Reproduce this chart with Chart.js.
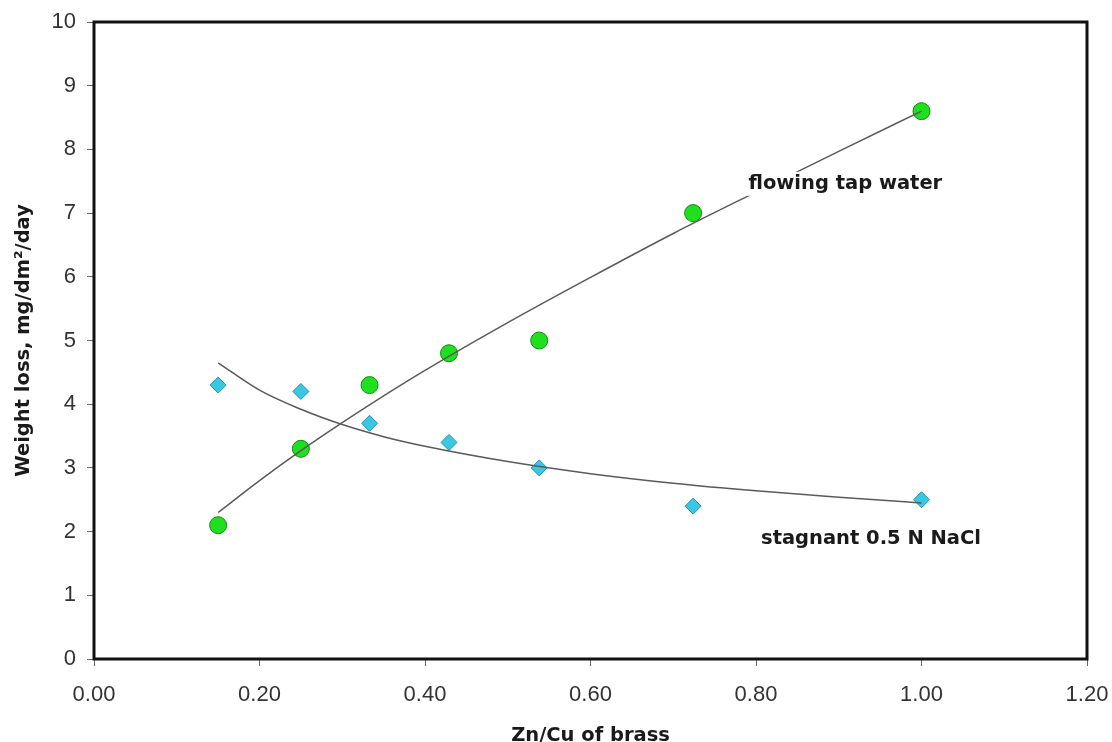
<!DOCTYPE html>
<html>
<head>
<meta charset="utf-8">
<script src="https://cdn.jsdelivr.net/npm/chart.js@4/dist/chart.umd.min.js"></script>
<style>
  html, body { margin: 0; padding: 0; background: #ffffff; }
  #wrap { width: 1112px; height: 742px; }
</style>
</head>
<body>
<div id="wrap"><canvas id="c" width="1112" height="742"></canvas></div>
<script>
// Zn/Cu ratio of the brasses tested
const znCu = [0.15, 0.25, 0.333, 0.429, 0.538, 0.724, 1.0];
// Weight loss, mg/dm2/day
const tapWater = [2.1, 3.3, 4.3, 4.8, 5.0, 7.0, 8.6];
const naclStagnant = [4.3, 4.2, 3.7, 3.4, 3.0, 2.4, 2.5];

// Trend curves
const tapTrendX = [0.15, 0.2, 0.25, 0.3, 0.35, 0.4, 0.5, 0.6, 0.7, 0.8, 0.9, 1.0];
const tapTrendY = [2.30, 2.80, 3.27, 3.71, 4.13, 4.53, 5.28, 5.99, 6.68, 7.33, 7.97, 8.60];
const naclTrendX = [0.15, 0.2, 0.25, 0.3, 0.35, 0.4, 0.5, 0.6, 0.7, 0.8, 0.9, 1.0];
const naclTrendY = [4.65, 4.22, 3.92, 3.68, 3.49, 3.34, 3.10, 2.91, 2.76, 2.64, 2.54, 2.45];

// Axis ticks
const xTicks = [0.00, 0.20, 0.40, 0.60, 0.80, 1.00, 1.20];
const yTicks = [0, 1, 2, 3, 4, 5, 6, 7, 8, 9, 10];

// Curve annotations
const annotations = [
  { text: 'flowing tap water', x: 0.908, y: 7.46 },
  { text: 'stagnant 0.5 N NaCl', x: 0.939, y: 1.88 }
];

const pts = (xs, ys) => xs.map((x, i) => ({ x: x, y: ys[i] }));

const labelFont = 'bold 19.5px "DejaVu Sans"';

const framePlugin = {
  id: 'frame',
  beforeDatasetsDraw(chart) {
    const { ctx, chartArea: a } = chart;
    ctx.save();
    ctx.strokeStyle = '#111111';
    ctx.lineWidth = 3;
    ctx.strokeRect(a.left, a.top, a.right - a.left, a.bottom - a.top);
    ctx.restore();
  },
  afterDatasetsDraw(chart) {
    const { ctx } = chart;
    const xs = chart.scales.x, ys = chart.scales.y;
    ctx.save();
    ctx.font = labelFont;
    ctx.textAlign = 'center';
    ctx.textBaseline = 'middle';
    annotations.forEach(an => {
      const px = xs.getPixelForValue(an.x);
      const py = ys.getPixelForValue(an.y);
      const w = ctx.measureText(an.text).width;
      ctx.fillStyle = '#ffffff';
      ctx.fillRect(px - w / 2 - 6, py - 12, w + 12, 24);
      ctx.fillStyle = '#1a1a1a';
      ctx.fillText(an.text, px, py);
    });
    ctx.restore();
  }
};

new Chart(document.getElementById('c'), {
  type: 'scatter',
  data: {
    datasets: [
      {
        label: 'flowing tap water trend',
        data: pts(tapTrendX, tapTrendY),
        showLine: true,
        cubicInterpolationMode: 'monotone',
        borderColor: '#5a5a5a',
        borderWidth: 1.5,
        pointRadius: 0,
        order: 0
      },
      {
        label: 'stagnant 0.5 N NaCl trend',
        data: pts(naclTrendX, naclTrendY),
        showLine: true,
        cubicInterpolationMode: 'monotone',
        borderColor: '#5a5a5a',
        borderWidth: 1.5,
        pointRadius: 0,
        order: 0
      },
      {
        label: 'flowing tap water',
        data: pts(znCu, tapWater),
        pointStyle: 'circle',
        pointRadius: 8.5,
        backgroundColor: '#1fe01f',
        borderColor: '#158a15',
        borderWidth: 1,
        order: 1
      },
      {
        label: 'stagnant 0.5 N NaCl',
        data: pts(znCu, naclStagnant),
        pointStyle: 'rectRot',
        pointRadius: 8,
        backgroundColor: '#38c8e2',
        borderColor: '#2a90aa',
        borderWidth: 1,
        order: 1
      }
    ]
  },
  options: {
    responsive: false,
    animation: false,
    layout: { padding: { top: 22, right: 25, left: 0, bottom: 0 } },
    plugins: {
      legend: { display: false },
      tooltip: { enabled: false }
    },
    scales: {
      x: {
        type: 'linear',
        min: 0,
        max: 1.2,
        afterBuildTicks(s) { s.ticks = xTicks.map(v => ({ value: v })); },
        afterFit(s) { s.height = 83; s.paddingLeft = 0; s.paddingRight = 0; },
        ticks: {
          callback: v => Number(v).toFixed(2),
          font: { family: '"Liberation Sans", Arial, sans-serif', size: 22 },
          color: '#333333',
          padding: 16,
          maxRotation: 0,
          autoSkip: false
        },
        grid: { display: true, drawOnChartArea: false, drawTicks: true, tickLength: 7, color: '#666666', lineWidth: 1 },
        border: { display: false },
        title: {
          display: true,
          text: 'Zn/Cu of brass',
          font: { family: '"DejaVu Sans"', size: 19.5, weight: 'bold', lineHeight: 1 },
          color: '#1a1a1a',
          padding: { top: 0, bottom: -4 }
        }
      },
      y: {
        type: 'linear',
        min: 0,
        max: 10,
        afterBuildTicks(s) { s.ticks = yTicks.map(v => ({ value: v })); },
        afterFit(s) { s.width = 94; s.paddingTop = 0; s.paddingBottom = 0; },
        ticks: {
          font: { family: '"Liberation Sans", Arial, sans-serif', size: 22 },
          color: '#333333',
          padding: 11,
          autoSkip: false
        },
        grid: { display: true, drawOnChartArea: false, drawTicks: true, tickLength: 7, color: '#666666', lineWidth: 1 },
        border: { display: false },
        title: {
          display: true,
          text: 'Weight loss, mg/dm²/day',
          font: { family: '"DejaVu Sans"', size: 19.5, weight: 'bold', lineHeight: 1.2 },
          color: '#1a1a1a',
          padding: { top: 12, bottom: 0 }
        }
      }
    }
  },
  plugins: [framePlugin]
});
</script>
</body>
</html>
